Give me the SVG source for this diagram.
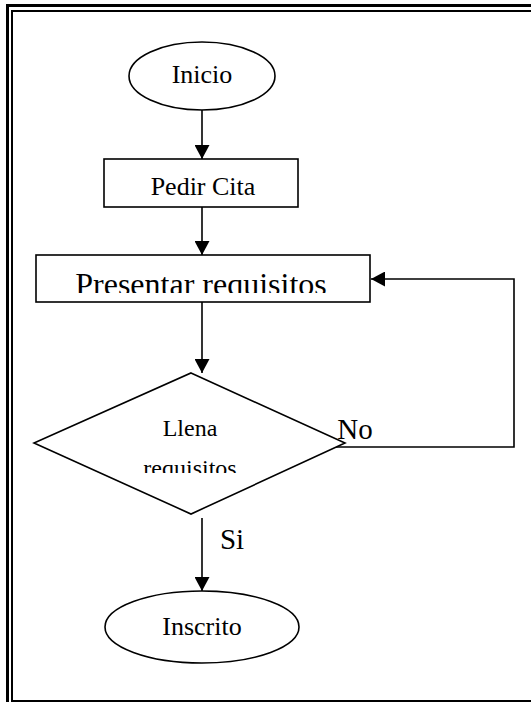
<svg xmlns="http://www.w3.org/2000/svg" width="531" height="702" viewBox="0 0 531 702">
  <style>
    .shape { fill: #fff; stroke: #000; stroke-width: 1.6; }
    .edge { fill: none; stroke: #000; stroke-width: 1.6; }
    .lbl { font-family: "Liberation Serif", "Times New Roman", serif; fill: #000; text-anchor: middle; }
  </style>
  <defs>
    <marker id="arrow" viewBox="0 0 14 15" refX="14" refY="7.5" markerWidth="14" markerHeight="15" markerUnits="userSpaceOnUse" orient="auto">
      <path d="M0,0 L14,7.5 L0,15 Z" fill="#000"/>
    </marker>
    <clipPath id="clipPresentar"><rect x="37" y="256" width="332" height="37"/></clipPath>
    <clipPath id="clipLlena"><rect x="60" y="400" width="260" height="73"/></clipPath>
  </defs>

  <rect width="531" height="702" fill="#fff"/>

  <!-- page border: double frame -->
  <g id="frame" fill="none" stroke="#000">
    <rect x="7.5" y="5.5" width="540" height="720" stroke-width="3"/>
    <rect x="12" y="11" width="530" height="690" stroke-width="2"/>
  </g>

  <!-- connectors -->
  <g id="connectors">
    <line class="edge" x1="202" y1="110" x2="202" y2="159" marker-end="url(#arrow)"/>
    <line class="edge" x1="202" y1="207" x2="202" y2="255" marker-end="url(#arrow)"/>
    <line class="edge" x1="202" y1="302" x2="202" y2="373" marker-end="url(#arrow)"/>
    <line class="edge" x1="202" y1="518" x2="202" y2="591" marker-end="url(#arrow)"/>
    <polyline class="edge" points="322,447 514,447 514,279 371,279" marker-end="url(#arrow)"/>
  </g>

  <g id="inicio">
    <ellipse class="shape" cx="202" cy="76" rx="73" ry="34"/>
    <text class="lbl" x="202" y="83" font-size="26">Inicio</text>
  </g>

  <g id="pedir-cita">
    <rect class="shape" x="104" y="159" width="194" height="48"/>
    <text class="lbl" x="203" y="195" font-size="26">Pedir Cita</text>
  </g>

  <g id="presentar-requisitos">
    <rect class="shape" x="36" y="255" width="334" height="47"/>
    <text class="lbl" x="201" y="295" font-size="32" clip-path="url(#clipPresentar)">Presentar requisitos</text>
  </g>

  <g id="llena-requisitos">
    <polygon class="shape" points="191,373 345,443 191,514 34,443"/>
    <g clip-path="url(#clipLlena)">
      <text class="lbl" x="190" y="436" font-size="24">Llena</text>
      <text class="lbl" x="190" y="476" font-size="24">requisitos</text>
    </g>
  </g>

  <g id="labels">
    <text class="lbl" x="355" y="439" font-size="29">No</text>
    <text class="lbl" x="232" y="549" font-size="29">Si</text>
  </g>

  <g id="inscrito">
    <ellipse class="shape" cx="202" cy="627" rx="97" ry="36"/>
    <text class="lbl" x="202" y="635" font-size="26">Inscrito</text>
  </g>
</svg>
